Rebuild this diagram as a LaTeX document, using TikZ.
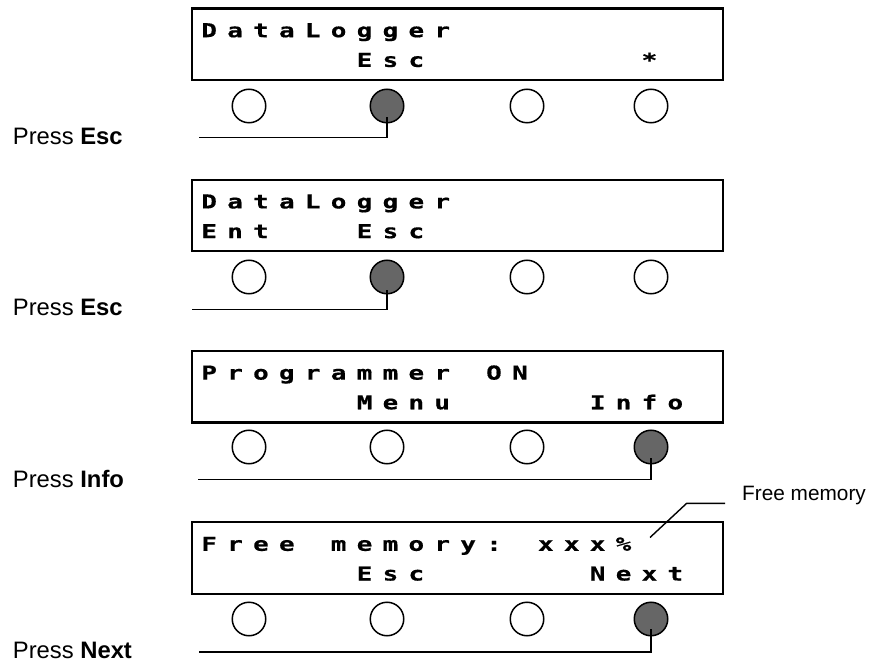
\documentclass[tikz,border=0pt]{standalone}
\usepackage{fontspec}
\setmainfont{Liberation Sans}
\newfontfamily\lcdfont{DejaVu Sans Mono}[FakeStretch=1.35, FakeBold=0.6]

% one character per display cell
\newcommand\lcdrow[1]{\foreach \ch in {#1}{\makebox[25.9pt][c]{\ch}}}

\tikzset{
  lcd/.style={draw, line width=2.2pt, rectangle, inner sep=0pt,
    minimum width=531pt, minimum height=71.5pt, anchor=north west},
  key/.style={circle, draw, line width=1.5pt, minimum size=33.5pt, inner sep=0pt, fill=white},
  keydown/.style={key, fill=black!60},
  lead/.style={line width=1.4pt},
  lcdtext/.style={anchor=base west, inner sep=0pt,
    font=\lcdfont\bfseries\fontsize{19.2}{20}\selectfont},
  presslabel/.style={anchor=base west, inner sep=0pt,
    font=\fontsize{23.8}{26}\selectfont},
  notelabel/.style={anchor=base west, inner sep=0pt,
    font=\fontsize{20.8}{24}\selectfont},
}

\begin{document}
\begin{tikzpicture}[x=1pt, y=-1pt]
\useasboundingbox (0,0) rectangle (879,663);

% ---------- panel 1 ----------
\node[lcd] (lcd1) at (190.7,7.5) {};
\node[lcdtext] (lcd1a) at (196,37.2) {\lcdrow{D,a,t,a,L,o,g,g,e,r}};
\node[lcdtext] (lcd1b) at (196,66.9) {\lcdrow{{},{},{},{},{},{},E,s,c,{},{},{},{},{},{},{},{},*}};
\node[key]     (k1a) at (249,106) {};
\node[keydown] (k1b) at (387,106) {};
\node[key]     (k1c) at (527,106) {};
\node[key]     (k1d) at (651,106) {};
\coordinate (s1) at (199,137.5);
\draw[lead] (s1) -| ([yshift=-11pt]k1b.center);
\node[presslabel] (press1) at (12.7,145) {Press \textbf{Esc}};

% ---------- panel 2 ----------
\node[lcd] (lcd2) at (190.7,178.7) {};
\node[lcdtext] (lcd2a) at (196,208.4) {\lcdrow{D,a,t,a,L,o,g,g,e,r}};
\node[lcdtext] (lcd2b) at (196,238.1) {\lcdrow{E,n,t,{},{},{},E,s,c}};
\node[key]     (k2a) at (249,277) {};
\node[keydown] (k2b) at (387,277) {};
\node[key]     (k2c) at (527,277) {};
\node[key]     (k2d) at (651,277) {};
\coordinate (s2) at (192,309.5);
\draw[lead] (s2) -| ([yshift=-13pt]k2b.center);
\node[presslabel] (press2) at (12.7,316) {Press \textbf{Esc}};

% ---------- panel 3 ----------
\node[lcd] (lcd3) at (190.7,349.9) {};
\node[lcdtext] (lcd3a) at (196,379.6) {\lcdrow{P,r,o,g,r,a,m,m,e,r,{},O,N}};
\node[lcdtext] (lcd3b) at (196,409.3) {\lcdrow{{},{},{},{},{},{},M,e,n,u,{},{},{},{},{},I,n,f,o}};
\node[key]     (k3a) at (249,447) {};
\node[key]     (k3b) at (387,447) {};
\node[key]     (k3c) at (527,447) {};
\node[keydown] (k3d) at (651,447) {};
\coordinate (s3) at (198,479.3);
\draw[lead] (s3) -| ([yshift=-11pt]k3d.center);
\node[presslabel] (press3) at (12.7,487) {Press \textbf{Info}};

% ---------- panel 4 ----------
\node[lcd] (lcd4) at (190.7,521.1) {};
\node[lcdtext] (lcd4a) at (196,550.8) {\lcdrow{F,r,e,e,{},m,e,m,o,r,y,:,{},x,x,x,\%}};
\node[lcdtext] (lcd4b) at (196,580.5) {\lcdrow{{},{},{},{},{},{},E,s,c,{},{},{},{},{},{},N,e,x,t}};
\node[key]     (k4a) at (249,619) {};
\node[key]     (k4b) at (387,619) {};
\node[key]     (k4c) at (527,619) {};
\node[keydown] (k4d) at (651,619) {};
\coordinate (s4) at (199,652);
\draw[lead] (s4) -| ([yshift=-10pt]k4d.center);
\node[presslabel] (press4) at (12.7,658) {Press \textbf{Next}};

% ---------- callout for the memory figure ----------
\node[notelabel] (fmlabel) at (742,500.7) {Free memory};
\coordinate (fmend) at (725,503.3);
\coordinate (fmknee) at (686.7,503.3);
\coordinate (fmtip) at (650,537.5);
\draw[lead] (fmend) -- (fmknee) -- (fmtip);
\end{tikzpicture}
\end{document}
